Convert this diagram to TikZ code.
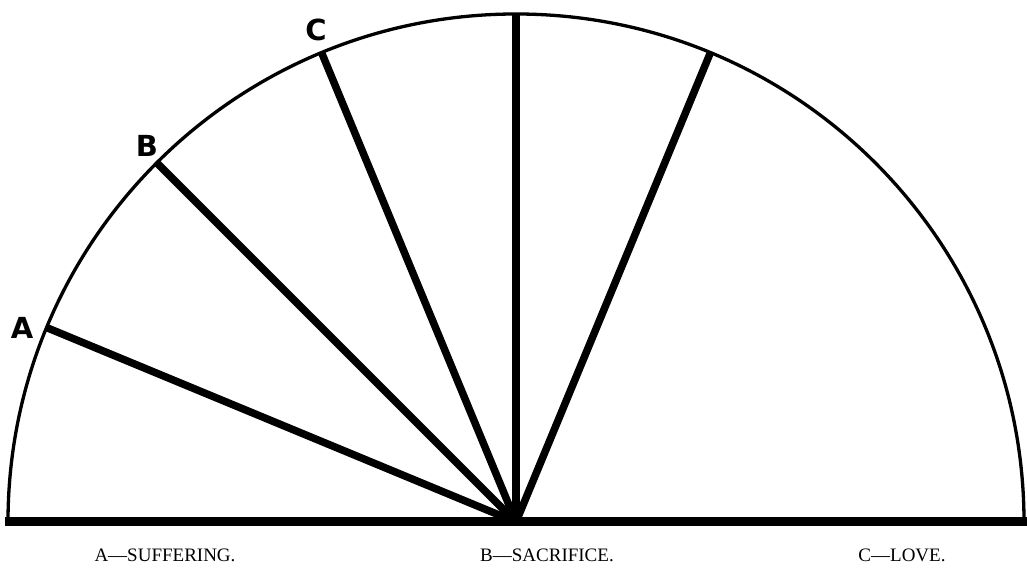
\documentclass[tikz,border=0pt]{standalone}
\usepackage{fontspec}
\newfontfamily\lblfont{DejaVu Sans}
\newfontfamily\capfont{Liberation Serif}
\usetikzlibrary{calc}
\begin{document}
\begin{tikzpicture}[x=1pt,y=1pt,
  arcline/.style={line width=3.3pt},
  spoke/.style={line width=7.5pt},
  baseline/.style={line width=9pt},
  letter/.style={font=\lblfont\bfseries\fontsize{29}{29}\selectfont},
  caption/.style={font=\capfont\fontsize{19}{19}\selectfont}]
\useasboundingbox (0,0) rectangle (1027,569);
\coordinate (O) at (516,47);
\coordinate (L) at (8,47);
\coordinate (R) at (1024,47);
\coordinate (pA) at ($(O)+(157.5:508)$);
\coordinate (pB) at ($(O)+(135:508)$);
\coordinate (pC) at ($(O)+(112.5:508)$);
\coordinate (pD) at ($(O)+(90:508)$);
\coordinate (pE) at ($(O)+(67.5:508)$);
\draw[arcline] (R) arc[start angle=0,end angle=180,radius=508];
\foreach \p in {pA,pB,pC,pD,pE} \draw[spoke] (O) -- (\p);
\coordinate (bl) at (5,47);
\coordinate (br) at (1027,47);
\draw[baseline] (bl) -- (br);
\node[letter] (la) at (22,241) {A};
\node[letter] (lb) at (147,423) {B};
\node[letter] (lc) at (316,539) {C};
\node[caption] (ca) at (165,14) {A—SUFFERING.};
\node[caption] (cb) at (547,14) {B—SACRIFICE.};
\node[caption] (cc) at (902,14) {C—LOVE.};
\end{tikzpicture}
\end{document}
